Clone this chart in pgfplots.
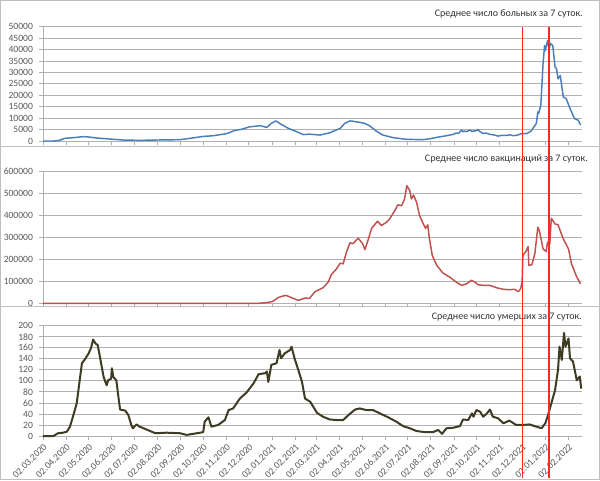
\documentclass[border=0pt]{standalone}
\usepackage{pgfplots}
\pgfplotsset{compat=1.18}
\usepackage{fontspec}
\setmainfont{Carlito}
\definecolor{cBlue}{HTML}{4A7EBB}
\definecolor{cRed}{HTML}{C0504D}
\definecolor{cOlive}{HTML}{3F3C24}
\definecolor{cTick}{HTML}{595959}
\definecolor{cTitle}{HTML}{333333}
\definecolor{cGrid}{HTML}{B0B0B0}
\definecolor{cFrame}{HTML}{BFBFBF}
\definecolor{cMark}{HTML}{F03C3C}
\pgfplotsset{panel/.style={
  scale only axis, width=404.25pt, xmin=0, xmax=720,
  axis lines*=left,
  axis line style={draw=cGrid, line width=0.6pt},
  ymajorgrids, grid style={draw=cGrid, line width=0.6pt},
  xtick={0,31,61,92,122,153,184,214,245,275,306,337,365,396,426,457,487,518,549,579,610,640,671,702},
  tick align=outside, major tick length=3pt,
  tick style={draw=cGrid, line width=0.6pt},
  ticklabel style={font=\fontsize{7.2}{8}\selectfont, text=cTick},
  /pgf/number format/assume math mode=true,
  /pgf/number format/fixed,
  /pgf/number format/precision=0,
  /pgf/number format/1000 sep={},
  scaled y ticks=false,
  scaled x ticks=false,
  yticklabel style={xshift=-1pt},
  clip=false,
}}
\begin{document}
\begin{tikzpicture}
\path[use as bounding box, fill=white] (0,0) rectangle (450pt,360pt);
\draw[cFrame, line width=0.75pt] (0.4pt,250.5pt) rectangle (449.6pt,359.6pt);
\draw[cFrame, line width=0.75pt] (0.4pt,130.5pt) rectangle (449.6pt,250.5pt);
\draw[cFrame, line width=0.75pt] (0.4pt,0.4pt) rectangle (449.6pt,130.5pt);
% Panel 1
\begin{axis}[panel, at={(32.25pt,254.25pt)}, anchor=south west, height=85.7pt,
  ymin=0, ymax=50000, ytick={0,5000,...,50000}, xticklabel=\empty]
\addplot[cBlue, line width=1.1pt, line join=round] coordinates {
(0,0) (15,0) (22,300) (29,1150) (40,1450) (54,1900) (61,1750) (72,1300) (89,870) (107,430) (129,290) (152,430) (183,580) (196,1150) (214,2000) (227,2300) (245,3200) (256,4600) (265,5100) (276,6200) (290,6700) (299,5950) (305,7700) (311,8800) (316,7700) (328,5500) (339,4050) (348,2800) (356,3000) (370,2600) (383,3600) (397,5500) (403,7700) (410,8800) (419,8400) (430,7700) (437,6500) (445,4350) (454,2600) (468,1450) (486,700) (508,600) (517,1000) (526,1600) (539,2300) (548,2900) (552,3500) (555,3300) (559,4800) (561,4000) (563,4350) (566,4100) (570,4800) (573,4200) (576,4400) (579,4500) (581,5050) (584,4000) (588,3300) (592,3500) (597,2900) (602,2700) (608,2150) (613,2500) (619,2450) (624,2700) (628,2300) (634,2600) (639,3200) (646,3200) (652,4350) (659,7700) (661,12700) (662,12000) (665,15600) (668,33800) (670,41700) (671,39600) (673,42500) (674,43900) (676,40300) (678,42700) (681,41700) (684,32300) (686,31600) (688,27200) (691,28700) (695,19300) (699,18500) (704,14200) (710,9800) (715,9100) (718,7000)
};
\coordinate (ra) at (axis cs:640,50000);
\coordinate (rb) at (axis cs:675.9,50000);
\end{axis}
% Panel 2
\begin{axis}[panel, at={(32.25pt,132.5pt)}, anchor=south west, height=98.7pt,
  ymin=0, ymax=600000, ytick={0,100000,200000,300000,400000,500000,600000}, xticklabel=\empty]
\addplot[cRed, line width=1.1pt, line join=round] coordinates {
(0,0) (287,0) (293,1500) (299,3000) (307,9000) (314,25800) (320,33000) (325,36000) (332,25800) (341,13600) (350,24000) (356,22700) (363,52000) (374,71000) (381,97000) (385,130000) (392,157000) (397,183000) (401,180000) (405,230000) (410,276000) (414,272000) (421,297000) (427,272000) (430,245000) (434,286000) (439,342000) (445,367000) (447,374000) (452,355000) (459,370000) (463,385000) (470,423000) (474,449000) (479,445000) (483,476000) (486,536000) (488,525000) (490,514000) (492,476000) (495,494000) (499,461000) (503,400000) (508,362000) (511,342000) (514,358000) (516,300000) (520,218000) (526,173000) (534,139000) (543,120000) (552,97000) (559,82000) (566,89000) (572,105000) (577,97000) (581,85000) (588,82000) (597,82000) (606,71000) (615,64000) (623,62000) (630,64000) (635,53000) (638,67000) (640,97000) (641,218000) (645,236000) (648,259000) (649,173000) (653,176000) (657,226000) (661,347000) (663,332000) (668,248000) (672,236000) (674,279000) (677,271000) (679,388000) (684,362000) (688,358000) (695,294000) (702,248000) (706,180000) (713,120000) (718,89000)
};
\end{axis}
% Panel 3
\begin{axis}[panel, at={(32.25pt,33pt)}, anchor=south west, height=82.7pt,
  ymin=0, ymax=200, ytick={0,20,...,200},
  xticklabels={02.03.2020,02.04.2020,02.05.2020,02.06.2020,02.07.2020,02.08.2020,02.09.2020,02.10.2020,02.11.2020,02.12.2020,02.01.2021,02.02.2021,02.03.2021,02.04.2021,02.05.2021,02.06.2021,02.07.2021,02.08.2021,02.09.2021,02.10.2021,02.11.2021,02.12.2021,02.01.2022,02.02.2022},
  xticklabel style={rotate=45, anchor=north east, inner sep=1.5pt}]
\addplot[cOlive, line width=1.5pt, line join=round] coordinates {
(0,0) (14,0) (20,5) (27,6) (32,8) (36,17) (40,35) (45,59) (49,101) (52,132) (56,139) (61,150) (64,159) (67,175) (70,168) (73,165) (76,144) (81,107) (85,92) (87,101) (91,104) (92,123) (94,107) (98,101) (101,68) (103,48) (110,46) (114,38) (118,20) (120,14) (125,21) (129,17) (138,12) (150,5) (165,6) (183,5) (192,2) (201,4) (210,6) (214,7) (216,26) (221,34) (225,17) (234,20) (243,29) (248,47) (254,50) (263,68) (272,79) (281,95) (288,112) (297,114) (299,117) (301,98) (305,129) (312,132) (316,156) (318,141) (323,150) (330,156) (332,162) (336,141) (341,120) (346,98) (350,68) (357,62) (366,42) (374,35) (383,30) (392,29) (401,29) (408,38) (417,48) (423,50) (432,47) (441,47) (450,41) (461,34) (472,26) (481,18) (490,14) (499,9) (510,7) (521,7) (528,11) (533,4) (539,14) (548,15) (557,18) (561,30) (568,29) (573,41) (575,35) (579,47) (584,44) (588,35) (593,41) (597,48) (601,35) (608,32) (615,23) (623,28) (632,20) (641,20) (650,21) (659,17) (666,14) (671,23) (674,35) (679,59) (684,83) (688,120) (690,162) (693,138) (696,187) (698,162) (702,177) (704,141) (708,135) (713,101) (717,108) (719,86)
};
\end{axis}
% titles
\node[anchor=east, inner sep=0pt, text=cTitle, font=\fontsize{7.5}{9}\selectfont] at (437.25pt,349.5pt) {Среднее число больных за 7 суток.};
\node[anchor=east, inner sep=0pt, text=cTitle, font=\fontsize{7.5}{9}\selectfont] at (441pt,240.75pt) {Среднее число вакцинаций за 7 суток.};
\node[anchor=east, inner sep=0pt, text=cTitle, font=\fontsize{7.5}{9}\selectfont] at (436.5pt,122.25pt) {Среднее число умерших за 7 суток.};
% marker lines
\draw[draw=red!85!white, line width=0.8pt] (ra) -- ++(0pt,-338.4pt) (rb) -- ++(0pt,-338.4pt);
\end{tikzpicture}
\end{document}
